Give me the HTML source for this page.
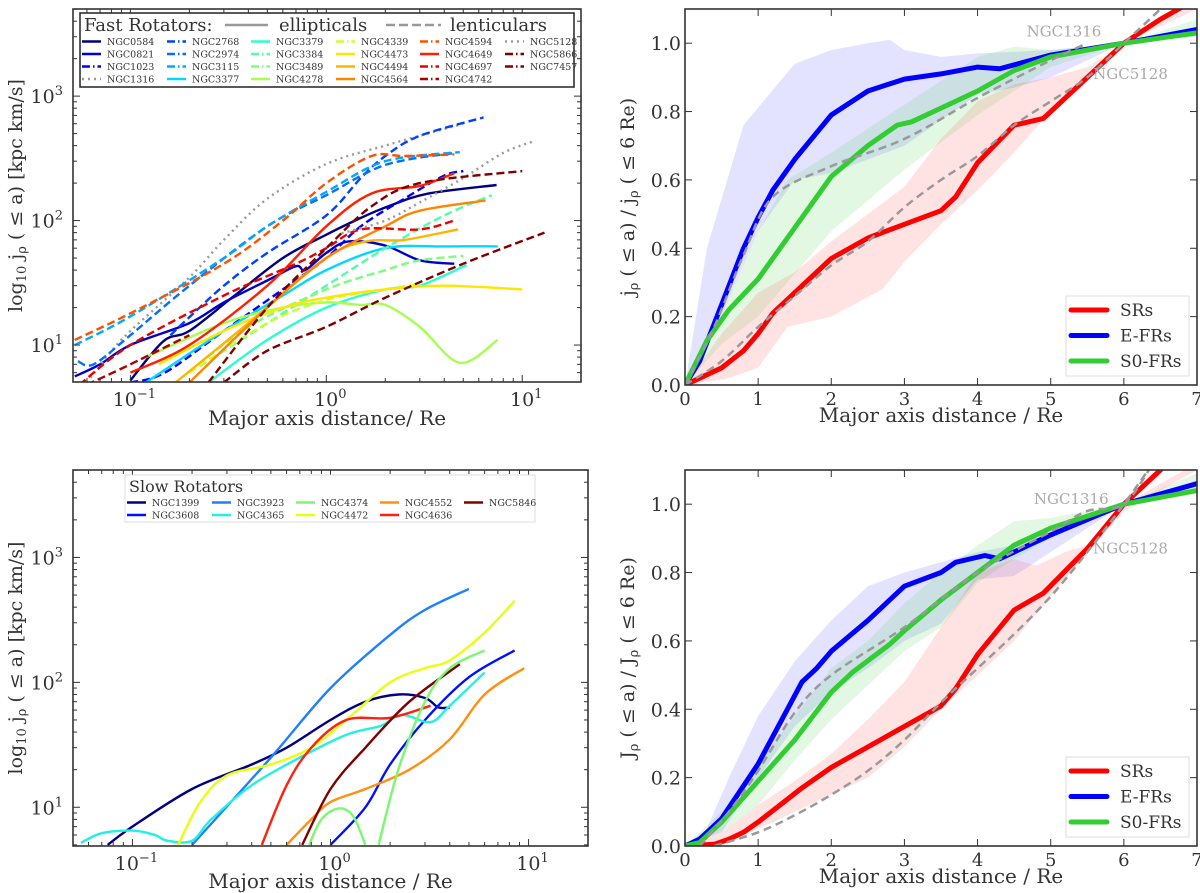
<!DOCTYPE html>
<html><head><meta charset="utf-8">
<style>
html,body{margin:0;padding:0;background:#fff;}
svg{display:block;font-family:"DejaVu Serif","Liberation Serif",serif;}
</style></head>
<body>
<svg id="fig" width="1200" height="893" viewBox="0 0 1200 893" xmlns="http://www.w3.org/2000/svg"></svg>
<script>
// ---------- Data: Fast rotators (top-left), [x (Re), j (kpc km/s)] ----------
const frNames = ["NGC0584","NGC0821","NGC1023","NGC1316","NGC2768","NGC2974","NGC3115","NGC3377","NGC3379","NGC3384","NGC3489","NGC4278","NGC4339","NGC4473","NGC4494","NGC4564","NGC4594","NGC4649","NGC4697","NGC4742","NGC5128","NGC5866","NGC7457"];
const frColors = ["#000080","#0000c8","#0000ff","#999999","#0040ff","#0070ff","#00a8ff","#00d8ff","#2affd0","#50ffa6","#7aff7c","#a6ff50","#d0ff26","#ffe600","#ffb400","#ff8400","#ff5000","#ff2000","#e80000","#b00000","#999999","#800000","#800000"];
const frStyles = ["solid","solid","dashdot","dot","dashdot","dashdot","dashdot","solid","solid","dashdot","dashdot","solid","dashdot","solid","solid","solid","dashdot","solid","dashdot","dashdot","dot","dashdot","dashdot"];
const fr0584 = [[0.1,5.2],[0.147,10.7],[0.2,13],[0.335,24.5],[0.6,50],[1.0,77],[1.5,105],[2.07,130],[3.27,164],[7.4,193]];
const fr0821 = [[0.052,5.6],[0.07,7],[0.1,10],[0.2,15],[0.3,22],[0.5,33],[0.7,43],[0.78,40],[1.0,55],[1.3,68],[2.0,63],[3.0,48],[4.5,45]];
const fr1023 = [[0.1,5],[0.15,6],[0.3,13],[0.6,28],[1.0,50],[1.5,90],[2.5,150],[4.0,230],[5.0,250]];
const fr1316 = [[0.06,5],[0.078,8.5],[0.1,13],[0.2,35],[0.3,70],[0.5,150],[1.0,285],[2.0,400],[3.0,480],[5.0,600]];
const fr2768 = [[0.16,12],[0.194,16],[0.3,30],[0.5,55],[1.0,110],[1.5,220],[2.0,330],[3.0,480],[6.35,674]];
const fr2974 = [[0.054,7.4],[0.065,7],[0.1,12],[0.2,30],[0.5,90],[1.0,160],[2.0,280],[4.5,350]];
const fr3115 = [[0.052,10],[0.1,17],[0.3,50],[0.5,90],[1.0,170],[2.0,300],[4.8,355]];
const fr3377 = [[0.12,5],[0.3,13],[0.6,25],[1.0,40],[2.0,60],[4.0,62],[7.5,62]];
const fr3379 = [[0.25,5],[0.5,11],[1.0,20],[2.0,28],[3.0,30],[5.2,44]];
const fr3384 = [[0.2,6],[0.4,12],[1.0,30],[2.0,60],[4.0,110],[7.0,160]];
const fr3489 = [[0.2,6],[0.4,14],[1.0,28],[2.0,40],[3.0,48],[5.0,52]];
const fr4278 = [[0.12,8],[0.3,15],[0.6,20],[1.0,22],[1.5,21],[2.0,21],[3.0,14],[4.8,7.2],[7.5,11]];
const fr4339 = [[0.2,6],[0.5,15],[1.0,23],[2.0,28],[3.0,31]];
const fr4473 = [[0.14,7],[0.3,13],[0.6,20],[1.0,24],[2.0,28],[4.0,30],[10,28]];
const fr4494 = [[0.17,5],[0.4,15],[1.0,50],[1.6,68],[2.5,70],[4.7,85]];
const fr4564 = [[0.2,5],[0.5,20],[1.0,50],[2.0,90],[3.0,120],[6.5,145]];
const fr4594 = [[0.052,11],[0.1,18],[0.3,45],[0.6,100],[1.0,200],[1.7,330],[2.5,330],[4.5,340]];
const fr4649 = [[0.1,6],[0.2,10],[0.5,30],[1.0,90],[1.7,165],[3.0,190],[4.5,240]];
const fr4697 = [[0.055,4.8],[0.1,10],[0.3,25],[0.7,45],[1.0,60],[1.5,85],[3.0,85],[4.5,100]];
const fr4742 = [[0.06,4.8],[0.1,7],[0.2,12]];
const fr5128 = [[1.2,79],[2.0,100],[3.0,140],[5.0,220],[8.0,350],[11.7,440]];
const fr5866 = [[0.25,5],[0.5,20],[1.0,60],[1.7,130],[3.0,200],[10,250]];
const fr7457 = [[0.3,5],[0.5,9],[1.0,14],[2.0,24],[5.0,45],[13,80]];
const frSeries = [fr0584,fr0821,fr1023,fr1316,fr2768,fr2974,fr3115,fr3377,fr3379,fr3384,fr3489,fr4278,fr4339,fr4473,fr4494,fr4564,fr4594,fr4649,fr4697,fr4742,fr5128,fr5866,fr7457];

// ---------- Data: Slow rotators (bottom-left) ----------
const srNames = ["NGC1399","NGC3608","NGC3923","NGC4365","NGC4374","NGC4472","NGC4552","NGC4636","NGC5846"];
const srColors = ["#000080","#0010ff","#1e80ff","#22f0e0","#7cf870","#e8ff10","#ff9010","#ff2010","#800000"];
const sr1399 = [[0.075,5],[0.1,7],[0.2,14],[0.4,22],[0.6,30],[1.0,50],[1.5,70],[2.2,80],[3.0,75],[3.5,63],[4.0,63]];
const sr3608 = [[1.0,5],[1.5,10],[2.0,22],[3.0,50],[5.0,110],[8.5,180]];
const sr3923 = [[0.2,5],[0.5,25],[1.0,90],[2.0,240],[3.0,380],[5.0,560]];
const sr4365 = [[0.055,5.2],[0.07,6.2],[0.1,6.5],[0.13,6],[0.15,5.4],[0.2,5.4],[0.25,8],[0.4,15],[0.7,25],[1.2,38],[1.8,45],[2.3,55],[3.2,48],[4.0,65],[6.0,120]];
const sr4374a = [[0.78,5],[0.9,8],[1.1,9.8],[1.3,8.5],[1.5,5]];
const sr4374b = [[1.75,5],[2.2,20],[3.0,70],[4.0,130],[6.0,180]];
const sr4472 = [[0.17,5],[0.22,11],[0.3,18],[0.5,22],[0.8,30],[1.2,50],[2.0,100],[3.0,130],[4.0,150],[6.0,250],[8.5,450]];
const sr4552 = [[0.6,5],[0.8,8],[1.0,11],[1.5,14],[2.5,20],[4.0,35],[6.0,80],[9.5,130]];
const sr4636 = [[0.45,5],[0.6,15],[0.8,30],[1.2,50],[2.0,52],[3.2,65]];
const sr5846 = [[0.72,5],[1.0,14],[1.5,30],[2.5,70],[4.5,140]];

// ---------- Data: normalised profiles (top-right) ----------
const t_SR = [[0,0],[0.2,0.02],[0.5,0.05],[0.8,0.1],[1,0.15],[1.2,0.21],[1.5,0.27],[2,0.37],[2.5,0.43],[3,0.47],[3.5,0.51],[3.7,0.55],[4,0.65],[4.5,0.76],[4.9,0.78],[5.5,0.9],[6,1.0],[6.5,1.07],[7,1.13]];
const t_EFR = [[0,0],[0.2,0.07],[0.4,0.18],[0.6,0.29],[0.8,0.4],[1,0.49],[1.2,0.57],[1.5,0.66],[2,0.79],[2.5,0.86],[3,0.895],[3.5,0.91],[4,0.93],[4.3,0.925],[5,0.965],[6,1.0],[7,1.04]];
const t_S0 = [[0,0],[0.3,0.13],[0.6,0.22],[1,0.31],[1.5,0.46],[2,0.61],[2.5,0.7],[2.9,0.76],[3.1,0.77],[3.5,0.81],[4,0.86],[4.5,0.92],[5,0.96],[6,1.0],[7,1.03]];
const t_N1316 = [[0,0],[0.4,0.17],[0.8,0.38],[1.2,0.55],[2,0.64],[3,0.72],[4,0.84],[5,0.95],[5.5,1.0]];
const t_N5128 = [[0,0],[0.5,0.07],[1,0.17],[1.5,0.26],[2,0.35],[2.5,0.42],[3,0.52],[3.5,0.6],[4,0.67],[4.5,0.76],[5,0.83],[5.5,0.9],[6,1.0],[6.5,1.1],[6.7,1.15]];
const t_EFR_lo = [[0,0],[0.5,0.2],[1,0.45],[1.5,0.6],[2,0.62],[3,0.7],[4,0.85],[4.5,0.87],[5,0.9],[6,1.0],[7,1.02]];
const t_EFR_hi = [[0,0],[0.3,0.4],[0.8,0.76],[1.5,0.94],[2,0.98],[2.5,1.0],[2.8,1.01],[3,0.98],[3.5,0.96],[4,0.97],[5,0.98],[6,1.0],[7,1.03]];
const t_S0_lo = [[0,0],[0.5,0.12],[1,0.2],[2,0.45],[3,0.63],[4,0.79],[4.5,0.86],[5,0.93],[6,1.0],[7,1.02]];
const t_S0_hi = [[0,0],[0.5,0.2],[1,0.45],[1.4,0.6],[2,0.68],[3,0.82],[4,0.96],[4.5,0.99],[5,0.98],[6,1.0],[7,1.07]];
const t_SR_lo = [[0,0],[0.6,0.02],[1,0.05],[1.4,0.17],[2,0.2],[2.7,0.28],[3,0.36],[3.5,0.47],[4,0.57],[4.5,0.68],[5,0.8],[6,1.0],[7,1.12]];
const t_SR_hi = [[0,0],[0.5,0.15],[1,0.27],[1.5,0.33],[2,0.42],[3,0.58],[3.5,0.72],[4,0.83],[4.5,0.88],[5,0.9],[5.5,0.93],[6,1.0],[7,1.1]];

// ---------- Data: normalised J profiles (bottom-right) ----------
const b_SR = [[0,0],[0.4,0.005],[0.6,0.02],[0.8,0.04],[1,0.07],[1.3,0.12],[1.6,0.17],[2,0.23],[2.5,0.29],[3,0.35],[3.5,0.41],[3.7,0.46],[4,0.56],[4.5,0.69],[4.9,0.74],[5.5,0.87],[6,1.0],[6.5,1.1],[7,1.2]];
const b_EFR = [[0,0],[0.2,0.02],[0.5,0.08],[1,0.24],[1.3,0.36],[1.6,0.48],[1.8,0.52],[2,0.57],[2.5,0.66],[3,0.76],[3.5,0.8],[3.7,0.83],[4.1,0.85],[4.3,0.84],[5,0.91],[6,1.0],[7,1.06]];
const b_S0 = [[0,0],[0.2,0.01],[0.5,0.07],[1,0.19],[1.5,0.31],[2,0.45],[2.3,0.51],[2.8,0.59],[3,0.63],[3.5,0.72],[4,0.8],[4.5,0.88],[5,0.93],[6,1.0],[7,1.04]];
const b_N1316 = [[0.2,0],[0.6,0.1],[1,0.22],[1.5,0.39],[2,0.5],[3,0.64],[4,0.8],[5,0.92],[5.5,0.98],[6,1.0],[6.4,1.12]];
const b_N5128 = [[0.4,0],[1,0.04],[1.5,0.09],[2,0.15],[2.5,0.22],[3,0.31],[3.5,0.42],[4,0.52],[4.5,0.62],[5,0.73],[5.5,0.86],[6,1.0],[6.4,1.12]];
const b_EFR_lo = [[0,0],[0.5,0.04],[1,0.2],[1.5,0.35],[2,0.45],[2.5,0.52],[3,0.6],[3.5,0.65],[4,0.78],[4.5,0.79],[5,0.86],[6,1.0],[7,1.05]];
const b_EFR_hi = [[0,0],[0.3,0.05],[0.6,0.2],[1,0.38],[1.5,0.54],[2,0.66],[2.5,0.76],[3,0.8],[4,0.86],[4.5,0.88],[5,0.92],[6,1.0],[7,1.07]];
const b_S0_lo = [[0,0],[0.5,0.04],[1,0.12],[1.5,0.25],[2,0.37],[2.5,0.47],[3,0.57],[3.5,0.64],[4,0.77],[4.5,0.84],[5,0.9],[6,1.0],[7,1.03]];
const b_S0_hi = [[0,0],[0.5,0.1],[1,0.24],[1.5,0.38],[2,0.52],[2.5,0.6],[3,0.71],[3.5,0.8],[4,0.88],[4.5,0.95],[5,0.96],[6,1.0],[7,1.09]];
const b_SR_lo = [[0,0],[0.5,0.005],[1,0.05],[1.5,0.1],[2,0.15],[2.5,0.2],[3,0.29],[3.5,0.4],[4,0.5],[4.5,0.6],[5,0.73],[6,0.98],[7,1.1]];
const b_SR_hi = [[0,0],[0.5,0.04],[1,0.12],[1.5,0.19],[2,0.27],[2.5,0.37],[3,0.48],[3.5,0.64],[4,0.8],[4.5,0.84],[4.8,0.82],[5.2,0.86],[5.5,0.88],[6,1.0],[7,1.12]];

const linTicksX = [0,1,2,3,4,5,6,7];
const linTicksY = [0,0.2,0.4,0.6,0.8,1.0];
const logTicksX = [-1,0,1];
const logTicksY = [1,2,3];

const NS = "http://www.w3.org/2000/svg";
const fig = document.getElementById("fig");
function mk(tag, attrs, parent){
  const e = document.createElementNS(NS, tag);
  for (const k in attrs) e.setAttribute(k, attrs[k]);
  (parent||fig).appendChild(e);
  return e;
}
function dashOf(s){
  if (s==="dot") return "2,4";
  if (s==="dashdot") return "8,3,1.5,3";
  return "none";
}

function makeAxes(name, L, R, T, B){
  const g = mk("g", {});
  
  
  const cid = "clip-"+name;
  const cp = mk("clipPath", {id:cid}, g);
  mk("rect", {x:L, y:T, width:R-L, height:B-T}, cp);
  const plot = mk("g", {"clip-path":"url(#"+cid+")"}, g);
  
  
  return {g, plot, L, R, T, B};
}
function logScale(lo, hi, p0, p1){ return v => p0 + (Math.log10(v)-lo)/(hi-lo)*(p1-p0); }
function linScale(lo, hi, p0, p1){ return v => p0 + (v-lo)/(hi-lo)*(p1-p0); }
function pathD(ax, arr){ return arr.map((p,i)=>(i?"L":"M")+ax.xs(p[0]).toFixed(1)+","+ax.ys(p[1]).toFixed(1)).join(""); }
function smoothD(ax, arr){
  const P = arr.map(p=>[ax.xs(p[0]), ax.ys(p[1])]);
  let d = "M"+P[0][0].toFixed(1)+","+P[0][1].toFixed(1);
  for (let i=0;i<P.length-1;i++){
    const p0=P[Math.max(0,i-1)], p1=P[i], p2=P[i+1], p3=P[Math.min(P.length-1,i+2)];
    const c1=[p1[0]+(p2[0]-p0[0])/6, p1[1]+(p2[1]-p0[1])/6];
    const c2=[p2[0]-(p3[0]-p1[0])/6, p2[1]-(p3[1]-p1[1])/6];
    d += "C"+c1[0].toFixed(1)+","+c1[1].toFixed(1)+" "+c2[0].toFixed(1)+","+c2[1].toFixed(1)+" "+p2[0].toFixed(1)+","+p2[1].toFixed(1);
  }
  return d;
}

function drawLine(ax, arr, color, lw, dash, name, smooth){
  const p = mk("path", {d:smooth?smoothD(ax,arr):pathD(ax,arr), fill:"none", stroke:color, "stroke-width":lw, "stroke-dasharray":dash, "stroke-linejoin":"round"}, ax.plot);
  
  
}
function drawBand(ax, lo, hi, color, name){
  const d = pathD(ax, lo) + hi.slice().reverse().map(p=>"L"+ax.xs(p[0]).toFixed(1)+","+ax.ys(p[1]).toFixed(1)).join("") + "Z";
  const p = mk("path", {d, fill:color, "fill-opacity":0.15, stroke:"none"}, ax.plot);
  
  
}
function frame(ax){
  const r = mk("rect", {x:ax.L, y:ax.T, width:ax.R-ax.L, height:ax.B-ax.T, fill:"none", stroke:"#333", "stroke-width":1.6}, ax.g);
  
  
}
function tick(ax, x1,y1,x2,y2){ mk("line",{x1,y1,x2,y2,stroke:"#333","stroke-width":1}, ax.g); }

function logAxisTicks(ax, xlo, xhi, ylo, yhi){
  for (let d=Math.floor(xlo); d<=Math.ceil(xhi); d++){
    for (let m=1;m<10;m++){
      const v = m*Math.pow(10,d); const lv=Math.log10(v);
      if (lv<xlo||lv>xhi) continue;
      const x = ax.xs(v), len = m===1?7:4;
      tick(ax,x,ax.B,x,ax.B-len); tick(ax,x,ax.T,x,ax.T+len);
    }
  }
  for (let d=Math.floor(ylo); d<=Math.ceil(yhi); d++){
    for (let m=1;m<10;m++){
      const v = m*Math.pow(10,d); const lv=Math.log10(v);
      if (lv<ylo||lv>yhi) continue;
      const y = ax.ys(v), len = m===1?7:4;
      tick(ax,ax.L,y,ax.L+len,y); tick(ax,ax.R,y,ax.R-len,y);
    }
  }
  logTicksX.forEach(e=>{
    const t = mk("text",{x:ax.xs(Math.pow(10,e))+4, y:ax.B+24, "text-anchor":"middle","font-size":19, fill:"#333"}, ax.g);
    
    
    t.appendChild(document.createTextNode("10"));
    const s = mk("tspan",{dy:-8,"font-size":13}, t); s.textContent = (e<0?"\u2212":"")+Math.abs(e);
  });
  logTicksY.forEach(e=>{
    const t = mk("text",{x:ax.L-10, y:ax.ys(Math.pow(10,e))+7, "text-anchor":"end","font-size":19, fill:"#333"}, ax.g);
    
    
    t.appendChild(document.createTextNode("10"));
    const s = mk("tspan",{dy:-8,"font-size":13}, t); s.textContent = String(e);
  });
}
function linAxisTicks(ax){
  linTicksX.forEach(v=>{
    const x=ax.xs(v); tick(ax,x,ax.B,x,ax.B-7); tick(ax,x,ax.T,x,ax.T+7);
    const t = mk("text",{x, y:ax.B+20, "text-anchor":"middle","font-size":18, fill:"#333"}, ax.g);
    
    
    t.textContent = String(v);
  });
  linTicksY.forEach(v=>{
    const y=ax.ys(v); tick(ax,ax.L,y,ax.L+7,y); tick(ax,ax.R,y,ax.R-7,y);
    const t = mk("text",{x:ax.L-4, y:y+7, "text-anchor":"end","font-size":19, fill:"#333"}, ax.g);
    
    
    t.textContent = v.toFixed(1);
  });
}
function xLabel(ax, txt, y){
  const t = mk("text",{x:(ax.L+ax.R)/2, y, "text-anchor":"middle","font-size":20, fill:"#333"}, ax.g);
  
  
  t.textContent = txt;
}
function yLabelLog(ax, cx){
  const cy = (ax.T+ax.B)/2;
  const t = mk("text",{x:cx, y:cy, "text-anchor":"middle","font-size":19, fill:"#333", transform:"rotate(-90 "+cx+" "+cy+")"}, ax.g);
  
  
  t.appendChild(document.createTextNode("log"));
  let s = mk("tspan",{dy:4,"font-size":13},t); s.textContent="10";
  s = mk("tspan",{dy:-4},t); s.textContent=" j";
  s = mk("tspan",{dy:4,"font-size":13},t); s.textContent="\u03c1";
  s = mk("tspan",{dy:-4},t); s.textContent=" ( \u2264 a) [kpc km/s]";
}
function yLabelRatio(ax, cx, J){
  const cy = (ax.T+ax.B)/2;
  const t = mk("text",{x:cx, y:cy, "text-anchor":"middle","font-size":19, fill:"#333", transform:"rotate(-90 "+cx+" "+cy+")"}, ax.g);
  
  
  t.appendChild(document.createTextNode(J));
  let s = mk("tspan",{dy:4,"font-size":13},t); s.textContent="\u03c1";
  s = mk("tspan",{dy:-4},t); s.textContent=" ( \u2264 a) / "+J;
  s = mk("tspan",{dy:4,"font-size":13},t); s.textContent="\u03c1";
  s = mk("tspan",{dy:-4},t); s.textContent=" ( \u2264 6 Re)";
}

// ===== Top-left: fast rotators =====
const XL=-1.293, XH=1.30, YL=0.703, YH=3.70;
const axFR = makeAxes("fast-rotators-panel", 73, 581, 9, 382);
axFR.xs = logScale(XL,XH,73,581); axFR.ys = logScale(YL,YH,382,9);
frSeries.forEach((arr,i)=>{
  drawLine(axFR, arr, frColors[i], 2.4, frStyles[i]==="solid"?"none":(frStyles[i]==="dot"?"2,4":"8,4"), "line-"+frNames[i].toLowerCase(), true);
});
frame(axFR); logAxisTicks(axFR, XL, XH, YL, YH);
xLabel(axFR, "Major axis distance/ Re", 425); yLabelLog(axFR, 22);
(function(){
  const lg = mk("g",{}, axFR.g);
  
  
  mk("rect",{x:80,y:13,width:494,height:74,fill:"#fff",stroke:"#222","stroke-width":1.5},lg);
  let t = mk("text",{x:84,y:31,"font-size":18,fill:"#333"},lg); t.textContent="Fast Rotators:";
  mk("line",{x1:225,y1:25,x2:268,y2:25,stroke:"#999","stroke-width":2.5},lg);
  t = mk("text",{x:279,y:31,"font-size":18,fill:"#333"},lg); t.textContent="ellipticals";
  mk("line",{x1:386,y1:25,x2:441,y2:25,stroke:"#999","stroke-width":2.5,"stroke-dasharray":"9,4"},lg);
  t = mk("text",{x:450,y:31,"font-size":18,fill:"#333"},lg); t.textContent="lenticulars";
  const cols=[82,167,251,336,420,505], rows=[41.5,54,66.5,79];
  frNames.forEach((n,i)=>{
    const c=Math.floor(i/4), r=i%4, x=cols[c], y=rows[r];
    const e = mk("g",{},lg);
    
    
    mk("line",{x1:x,y1:y,x2:x+19,y2:y,stroke:frColors[i],"stroke-width":2.5,"stroke-dasharray":dashOf(frStyles[i])},e);
    const tt = mk("text",{x:x+25,y:y+3.5,"font-size":9.5,fill:"#333"},e); tt.textContent=n;
  });
})();

// ===== Bottom-left: slow rotators =====
const BXL=-1.30, BXH=1.30, BYL=0.69, BYH=3.70;
const axSR = makeAxes("slow-rotators-panel", 73, 588, 470, 846);
axSR.xs = logScale(BXL,BXH,73,588); axSR.ys = logScale(BYL,BYH,846,470);
const srSeries = [sr1399,sr3608,sr3923,sr4365,sr4374a,sr4472,sr4552,sr4636,sr5846];
srSeries.forEach((arr,i)=>drawLine(axSR, arr, srColors[i], 2.4, "none", "line-"+srNames[i].toLowerCase(), true));
drawLine(axSR, sr4374b, srColors[4], 2.4, "none", "line-ngc4374-outer", true);
frame(axSR); logAxisTicks(axSR, BXL, BXH, BYL, BYH);
xLabel(axSR, "Major axis distance / Re", 888); yLabelLog(axSR, 22);
(function(){
  const lg = mk("g",{}, axSR.g);
  
  
  mk("rect",{x:125,y:475,width:410,height:47,fill:"#fff",stroke:"#ddd","stroke-width":1},lg);
  const t = mk("text",{x:129,y:492,"font-size":16,fill:"#333"},lg); t.textContent="Slow Rotators";
  const cols=[127,212,296,380,464], rows=[502.5,515];
  srNames.forEach((n,i)=>{
    const c=Math.floor(i/2), r=i%2, x=cols[c], y=rows[r];
    const e = mk("g",{},lg);
    
    
    mk("line",{x1:x,y1:y,x2:x+19,y2:y,stroke:srColors[i],"stroke-width":2.5},e);
    const tt = mk("text",{x:x+25,y:y+3.5,"font-size":9.5,fill:"#333"},e); tt.textContent=n;
  });
})();

// ===== Right panels =====
function ratioPanel(name, T, B, d, J){
  const ax = makeAxes(name, 685, 1197, T, B);
  ax.xs = linScale(0,7,685,1197); ax.ys = linScale(0,1.1,B,T);
  drawBand(ax, d.Elo, d.Ehi, "#4040ff", "band-e-frs");
  drawBand(ax, d.Slo, d.Shi, "#40d040", "band-s0-frs");
  drawBand(ax, d.Rlo, d.Rhi, "#ff4040", "band-srs");
  drawLine(ax, d.SR, "#ff0000", 5, "none", "line-srs");
  drawLine(ax, d.E, "#0000ff", 5, "none", "line-e-frs");
  drawLine(ax, d.S, "#33cc33", 5, "none", "line-s0-frs");
  drawLine(ax, d.N1316, "#999", 2.5, "8,5", "line-ngc1316", true);
  drawLine(ax, d.N5128, "#999", 2.5, "8,5", "line-ngc5128", true);
  frame(ax); linAxisTicks(ax);
  let t = mk("text",{x:ax.xs(d.l1[0]),y:ax.ys(d.l1[1]),"font-size":15,fill:"#aaa"},ax.g); t.textContent="NGC1316";
   
  t = mk("text",{x:ax.xs(d.l2[0]),y:ax.ys(d.l2[1]),"font-size":15,fill:"#aaa"},ax.g); t.textContent="NGC5128";
   
  xLabel(ax, "Major axis distance / Re", B+37); yLabelRatio(ax, 634, J);
  const ly = B-89;
  const lg = mk("g",{}, ax.g);
  
  
  mk("rect",{x:1066,y:ly,width:123,height:80,fill:"#fff",stroke:"#ddd","stroke-width":1},lg);
  [["SRs","#ff0000"],["E-FRs","#0000ff"],["S0-FRs","#33cc33"]].forEach((it,i)=>{
    const y = ly+14+25.5*i;
    const e = mk("g",{},lg);
    
    
    mk("line",{x1:1071,y1:y,x2:1107,y2:y,stroke:it[1],"stroke-width":5,"stroke-linecap":"round"},e);
    const tt = mk("text",{x:1120,y:y+6,"font-size":17,fill:"#333"},e); tt.textContent=it[0];
  });
}
ratioPanel("normalised-j-panel", 9, 385, {SR:t_SR,E:t_EFR,S:t_S0,N1316:t_N1316,N5128:t_N5128,Elo:t_EFR_lo,Ehi:t_EFR_hi,Slo:t_S0_lo,Shi:t_S0_hi,Rlo:t_SR_lo,Rhi:t_SR_hi,l1:[4.67,1.02],l2:[5.58,0.895]}, "j");
ratioPanel("normalised-J-panel", 470, 846, {SR:b_SR,E:b_EFR,S:b_S0,N1316:b_N1316,N5128:b_N5128,Elo:b_EFR_lo,Ehi:b_EFR_hi,Slo:b_S0_lo,Shi:b_S0_hi,Rlo:b_SR_lo,Rhi:b_SR_hi,l1:[4.77,1.0],l2:[5.58,0.855]}, "J");
</script>
</body></html>
